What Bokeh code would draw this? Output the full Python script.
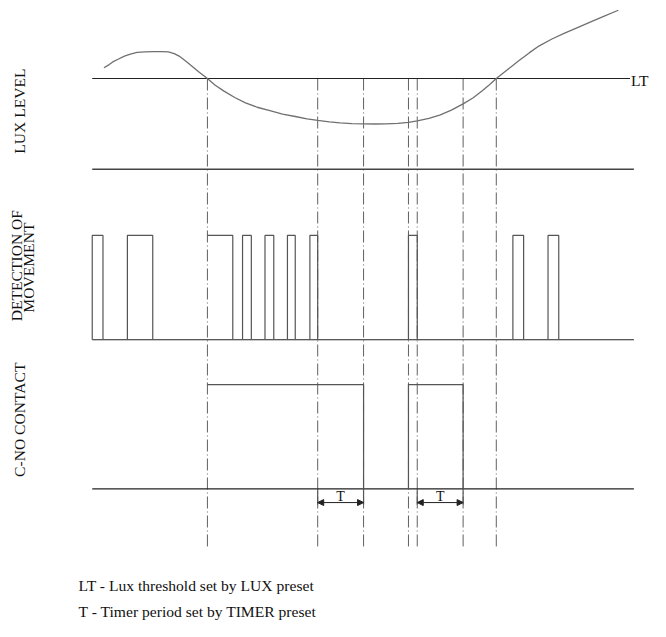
import math
from bokeh.plotting import figure
from bokeh.models import Range1d, Arrow, NormalHead
from bokeh.core.properties import value
from bokeh.embed import file_html
from bokeh.resources import INLINE

# ---------------- data ----------------
# lux level curve (time, level) in diagram units
lux_t = [106, 111, 115, 121, 127, 133, 140, 148, 157, 165, 172, 178, 183, 189, 195,
         203, 212, 220, 229, 240, 251, 263, 276, 289, 302, 314, 325, 337, 348, 360,
         372, 384, 395, 407, 418, 427, 439, 450, 462, 474, 484, 493, 501, 508, 520,
         531, 542, 552, 565, 578, 590, 603, 618, 633]
lux_v = [69, 66, 63, 60, 57, 55, 53.3, 52.7, 52.5, 52.5, 52.8, 54.5, 57, 61.5, 66.5,
         73, 80, 87, 93, 99.5, 105, 109.5, 113, 116.5, 119, 121.5, 123, 124.5, 125.5, 126.2,
         126.6, 126.7, 126.5, 126, 125, 123.5, 121, 117.5, 112.5, 106, 100, 93, 86.5, 80, 70.5,
         61.8, 53.5, 46.5, 39.5, 33.5, 28.3, 22.7, 16.3, 10]
lux_threshold = 80

# event instants marked with dash-dot guide lines
event_times = [212, 325, 372, 418, 427, 474, 508]
lux_cross_down = 212

# motion detection pulses
motion_on = [94, 130, 212, 248, 271, 294, 317, 418, 525, 561]
motion_off = [105, 156, 238, 257, 280, 302, 325, 427, 536, 572]

# C-NO contact pulses
contact_on = [212, 418]
contact_off = [372, 474]

# timer periods T
timer_start = [325, 427]
timer_end = [372, 474]

# texts
panel_labels = ["LUX LEVEL", "DETECTION OF", "MOVEMENT", "C-NO CONTACT"]
notes = ["LT - Lux threshold set by LUX preset", "T - Timer period set by TIMER preset"]

# ---------------- layout ----------------
X0, X1 = 94, 649
LUX_BASE = 173
DET_BASE, DET_TOP = 348, 241
CON_BASE, CON_TOP = 501, 394
GUIDE_END = 560
ARROW_Y = 515

SERIF = value("Liberation Serif")
LINE = "#222222"
GRAY = "#555555"
FS = "15.6px"

p = figure(width=650, height=621, x_range=Range1d(0, 666), y_range=Range1d(637, 0),
           output_backend="svg", toolbar_location=None, min_border=0,
           x_axis_location=None, y_axis_location=None)
p.grid.visible = False
p.outline_line_color = None
p.background_fill_color = "white"
p.border_fill_color = "white"

# guide lines (dash-dot)
p.segment(x0=event_times, y0=[lux_threshold] * len(event_times), x1=event_times,
          y1=[GUIDE_END] * len(event_times), line_color="#606060", line_width=1,
          line_dash="12 3 1 3")

# lux panel
p.segment(x0=[X0], y0=[lux_threshold], x1=[645], y1=[lux_threshold], line_color=LINE, line_width=1.2)
p.segment(x0=[X0], y0=[LUX_BASE], x1=[X1], y1=[LUX_BASE], line_color="#444444", line_width=1.5)
p.line(lux_t, lux_v, line_color="#707070", line_width=1.3)
p.text(x=[646], y=[82], text=["LT"], text_font=SERIF, text_font_size=FS,
       text_align="left", text_baseline="middle", text_color="#111111")


def pulses(on, off, base, top):
    xs, ys = [], []
    for s, e in zip(on, off):
        if s == lux_cross_down:
            xs.append([s, e, e]); ys.append([top, top, base])
        else:
            xs.append([s, s, e, e]); ys.append([base, top, top, base])
    return xs, ys


# detection panel
p.segment(x0=[X0], y0=[DET_BASE], x1=[X1], y1=[DET_BASE], line_color=LINE, line_width=1.2)
mx, my = pulses(motion_on, motion_off, DET_BASE, DET_TOP)
p.multi_line(mx, my, line_color=GRAY, line_width=1.2)

# contact panel
p.segment(x0=[X0], y0=[CON_BASE], x1=[X1], y1=[CON_BASE], line_color=LINE, line_width=1.2)
cx, cy = pulses(contact_on, contact_off, CON_BASE, CON_TOP)
p.multi_line(cx, cy, line_color=GRAY, line_width=1.2)

# timer arrows
ext = timer_start + timer_end
p.segment(x0=ext, y0=[CON_BASE] * len(ext), x1=ext, y1=[ARROW_Y + 2] * len(ext),
          line_color=GRAY, line_width=1.2)
for s, e in zip(timer_start, timer_end):
    p.add_layout(Arrow(x_start=s, y_start=ARROW_Y, x_end=e, y_end=ARROW_Y,
                       line_color="#222222", line_width=1,
                       start=NormalHead(size=6, fill_color="#222222", line_color="#222222"),
                       end=NormalHead(size=6, fill_color="#222222", line_color="#222222")))
p.text(x=[(s + e) / 2 for s, e in zip(timer_start, timer_end)], y=[ARROW_Y + 1] * 2,
       text=["T", "T"], text_font=SERIF, text_font_size="14px",
       text_align="center", text_baseline="bottom", text_color="#111111")

# panel labels (rotated)
p.text(x=[19, 16, 28.5, 19], y=[113.5, 272, 274, 430], text=panel_labels,
       angle=[math.pi / 2] * 4, text_font=SERIF, text_font_size=FS,
       text_align="center", text_baseline="middle", text_color="#111111")

# notes
p.text(x=[80, 80], y=[600, 627], text=notes, text_font=SERIF, text_font_size=FS,
       text_align="left", text_baseline="alphabetic", text_color="#111111")

open("out.html", "w").write(file_html(p, INLINE))
